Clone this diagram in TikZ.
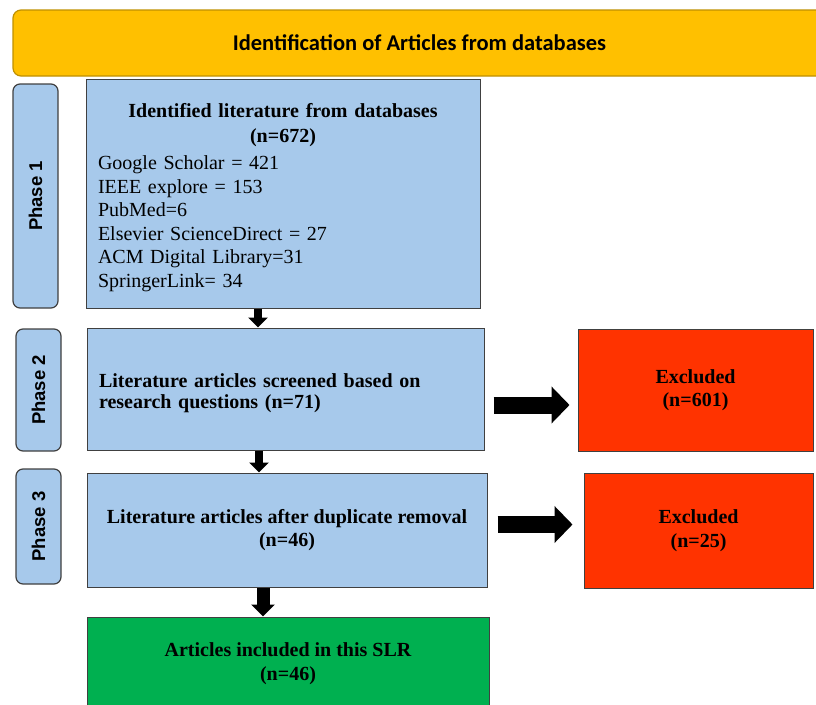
\documentclass[tikz,border=0pt]{standalone}
\usepackage{fontspec}
\setmainfont{Liberation Serif}
\newfontfamily\phasefont{Liberation Sans}
\newfontfamily\bannerfont{Carlito}
\usetikzlibrary{arrows.meta}

\definecolor{bannerfill}{HTML}{FFC000}
\definecolor{bannerline}{HTML}{BF9000}
\definecolor{boxblue}{HTML}{A7C9EB}
\definecolor{boxline}{HTML}{404040}
\definecolor{exclred}{HTML}{FF3300}
\definecolor{inclgreen}{HTML}{00B050}

\tikzset{
    stagebox/.style={draw=boxline, line width=1pt, fill=boxblue, inner sep=0pt,
        font=\fontsize{20}{23.5}\selectfont\bfseries},
    phasebox/.style={draw=boxline, line width=1.2pt, fill=boxblue, rounded corners=7pt,
        inner sep=0pt, minimum width=45pt},
    phaselabel/.style={rotate=90, font=\phasefont\fontsize{18.5}{20}\selectfont\bfseries},
    downarr/.style={line width=8pt, -{Triangle[width=19pt,length=10pt]}},
    rightarr/.style={line width=17pt, -{Triangle[width=36pt,length=18pt]}}
}

\begin{document}
\begin{tikzpicture}[x=1pt,y=-1pt]
            \useasboundingbox (0,0) rectangle (816,704);

            % banner
            \node [draw=bannerline, line width=1.2pt, fill=bannerfill, rounded corners=8pt,
                minimum width=813pt, minimum height=66pt,
                font=\bannerfont\fontsize{22.5}{26}\selectfont\bfseries]
                (banner) at (419.5,43) {Identification of Articles from databases};

            % Phase 1
            \node [phasebox, minimum height=224pt] (phase1) at (35.5,196) {};
            \node [phaselabel] (phase1lbl) at (phase1.center) {Phase 1};
            \node [stagebox, minimum width=394pt, minimum height=229pt,
                text width=370pt, align=left] (ident) at (283,193.5)
                {{\centering\rule{0pt}{22pt}Identified literature from databases\\[1.5pt](n=672)\par}
                \vspace{4pt}\mdseries
                Google Scholar = 421\\
                IEEE explore = 153\\
                PubMed=6\\
                Elsevier ScienceDirect = 27\\
                ACM Digital Library=31\\
                SpringerLink= 34};

            % Phase 2
            \node [phasebox, minimum height=122pt] (phase2) at (38.5,390) {};
            \node [phaselabel] (phase2lbl) at (phase2.center) {Phase 2};
            \node [stagebox, minimum width=397pt, minimum height=122pt,
                text width=373pt, align=left, font=\fontsize{20}{21}\selectfont\bfseries]
                (screen) at (285.5,389)
                {\rule{0pt}{22pt}Literature articles screened based on\\research questions (n=71)};
            \node [stagebox, fill=exclred, minimum width=235pt, minimum height=122pt,
                align=center] (excl1) at (695.5,390) {Excluded\\(n=601)};

            % Phase 3
            \node [phasebox, minimum height=115pt] (phase3) at (38.5,526.5) {};
            \node [phaselabel] (phase3lbl) at (phase3.center) {Phase 3};
            \node [stagebox, minimum width=400pt, minimum height=114pt, align=center]
                (dedup) at (287,530)
                {Literature articles after duplicate removal\\(n=46)};
            \node [stagebox, fill=exclred, minimum width=229pt, minimum height=115pt,
                align=center] (excl2) at (698.5,530.5) {Excluded\\(n=25)};

            % included
            \node [stagebox, fill=inclgreen, minimum width=402pt, minimum height=93pt,
                align=center] (incl) at (288,663.5)
                {Articles included in this SLR\\(n=46)};

            % down arrows
            \draw [downarr] ([xshift=-25pt]ident.south) -- ([xshift=-25pt]ident.south |- screen.north);
            \draw [downarr] ([xshift=-26.5pt]screen.south) -- ([xshift=-26.5pt]screen.south |- dedup.north);
            \draw [line width=13pt, -{Triangle[width=23pt,length=12pt]}]
                ([xshift=-24pt]dedup.south) -- ([xshift=-24pt]dedup.south |- incl.north);

            % right arrows
            \draw [rightarr, shorten <=9pt, shorten >=8pt]
                ([yshift=-16pt]screen.east) -- ([yshift=-16pt]screen.east -| excl1.west);
            \draw [rightarr, shorten <=10pt, shorten >=11pt]
                ([yshift=5.5pt]dedup.east) -- ([yshift=5.5pt]dedup.east -| excl2.west);
\end{tikzpicture}
\end{document}
